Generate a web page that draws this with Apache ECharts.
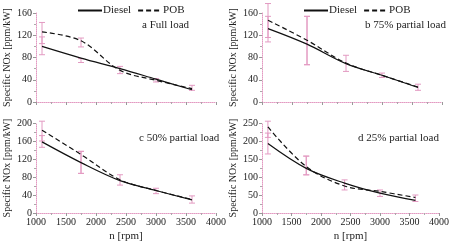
<!DOCTYPE html>
<html>
<head>
<meta charset="utf-8">
<script src="https://cdn.jsdelivr.net/npm/echarts@6/dist/echarts.min.js"></script>
<style>
  html, body { margin: 0; padding: 0; background: #fff; }
  #chart { width: 452px; height: 245px; }
</style>
</head>
<body>
<div id="chart"></div>
<script>
// engine speed of the measuring points
const rpm = [1100, 1750, 2400, 3000, 3600];

// specific NOx, ppm/kW
const dieselA = [100, 79, 60, 41, 22];
const pobA = [126, 110, 57, 39, 24];
const dieselB = [132, 104, 69, 48, 26];
const pobB = [147, 111, 70, 48, 27];
const dieselC = [158, 112, 72, 50, 29];
const pobC = [184, 130, 74, 50, 30];
const dieselD = [193, 124, 83, 55, 35];
const pobD = [239, 129, 75, 60, 43];

// error bars (rpm, low, high)
const errRpm = [1100, 1100, 1750, 1750, 2400, 3000, 3600];
const errLowA = [85, 105, 99, 71, 51, 36, 21];
const errHighA = [143, 117, 115, 78, 64, 42, 30];
const errLowB = [108, 116, 67, 67, 55, 44, 21];
const errHighB = [177, 154, 154, 154, 84, 52, 32];
const errLowC = [146, 160, 88, 88, 62, 43, 22];
const errHighC = [204, 172, 137, 137, 85, 55, 38];
const errLowD = [164, 210, 106, 106, 64, 46, 32];
const errHighD = [255, 222, 158, 158, 92, 64, 50];

const panelTitles = ['a Full load', 'b 75% partial load', 'c 50% partial load', 'd 25% partial load'];
const yMax = [160, 160, 200, 250];
const yStep = [40, 40, 40, 50];

const FONT = 'Liberation Serif';
const PINK = '#e39ac2';

const chart = echarts.init(document.getElementById('chart'));

const grids = [
  { left: 36, top: 13, width: 180, height: 89 },
  { left: 262, top: 13, width: 180, height: 89 },
  { left: 36, top: 123, width: 180, height: 90 },
  { left: 262, top: 123, width: 180, height: 90 },
];

function toPairs(ys) {
  return rpm.map((r, i) => [r, ys[i]]);
}
function toErr(lo, hi) {
  return errRpm.map((r, i) => [r, lo[i], hi[i]]);
}

function renderErr(params, api) {
  const x = api.value(0);
  const p1 = api.coord([x, api.value(1)]);
  const p2 = api.coord([x, api.value(2)]);
  const w = 3;
  const style = { stroke: PINK, lineWidth: 1 };
  return {
    type: 'group',
    children: [
      { type: 'line', shape: { x1: p1[0], y1: p1[1], x2: p2[0], y2: p2[1] }, style },
      { type: 'line', shape: { x1: p1[0] - w, y1: p1[1], x2: p1[0] + w, y2: p1[1] }, style },
      { type: 'line', shape: { x1: p2[0] - w, y1: p2[1], x2: p2[0] + w, y2: p2[1] }, style },
    ],
  };
}

const xAxes = grids.map((g, i) => ({
  type: 'value',
  gridIndex: i,
  min: 1000,
  max: 4000,
  interval: 500,
  name: i >= 2 ? 'n [rpm]' : '',
  nameLocation: 'middle',
  nameGap: 18,
  nameTextStyle: { fontFamily: FONT, fontSize: 11, color: '#222' },
  axisLine: { show: true, lineStyle: { color: PINK, type: 'dotted', width: 1 } },
  axisTick: { show: true, length: 3, inside: false, lineStyle: { color: '#999' } },
  minorTick: { show: true, splitNumber: 2, length: 2, lineStyle: { color: '#aaa' } },
  axisLabel: { show: i >= 2, fontFamily: FONT, fontSize: 10, color: '#222', margin: 4, formatter: v => String(v) },
  splitLine: { show: false },
}));

const yAxes = grids.map((g, i) => ({
  type: 'value',
  gridIndex: i,
  min: 0,
  max: yMax[i],
  interval: yStep[i],
  name: 'Specific NOx [ppm/kW]',
  nameLocation: 'middle',
  nameRotate: 90,
  nameGap: 24,
  nameTextStyle: { fontFamily: FONT, fontSize: 10, color: '#222' },
  axisLine: { show: true, lineStyle: { color: PINK, type: 'dotted', width: 1 } },
  axisTick: { show: true, length: 3, lineStyle: { color: '#999' } },
  minorTick: { show: true, splitNumber: 2, length: 2, lineStyle: { color: '#aaa' } },
  axisLabel: { fontFamily: FONT, fontSize: 10, color: '#222', margin: 4 },
  splitLine: { show: false },
}));

const dieselSets = [dieselA, dieselB, dieselC, dieselD];
const pobSets = [pobA, pobB, pobC, pobD];
const errSets = [[errLowA, errHighA], [errLowB, errHighB], [errLowC, errHighC], [errLowD, errHighD]];

const series = [];
grids.forEach((g, i) => {
  series.push({
    type: 'custom',
    name: 'err' + i,
    xAxisIndex: i,
    yAxisIndex: i,
    renderItem: renderErr,
    encode: { x: 0, y: [1, 2] },
    data: toErr(errSets[i][0], errSets[i][1]),
    z: 1,
    silent: true,
  });
  series.push({
    type: 'line',
    name: 'Diesel',
    xAxisIndex: i,
    yAxisIndex: i,
    data: toPairs(dieselSets[i]),
    smooth: 0.35,
    symbol: 'none',
    lineStyle: { color: '#111', width: 1.2, type: 'solid' },
    itemStyle: { color: '#111' },
    z: 3,
  });
  series.push({
    type: 'line',
    name: 'POB',
    xAxisIndex: i,
    yAxisIndex: i,
    data: toPairs(pobSets[i]),
    smooth: 0.35,
    symbol: 'none',
    lineStyle: { color: '#111', width: 1.2, type: [5, 3] },
    itemStyle: { color: '#111' },
    z: 3,
  });
});

const legendBase = {
  data: ['Diesel', 'POB'],
  top: 0,
  itemWidth: 24,
  itemHeight: 10,
  itemGap: 6,
  itemStyle: { opacity: 0 },
  textStyle: { fontFamily: FONT, fontSize: 11, color: '#222', padding: [0, 0, 0, -4] },
  selectedMode: false,
};

chart.setOption({
  animation: false,
  grid: grids,
  xAxis: xAxes,
  yAxis: yAxes,
  legend: [
    Object.assign({}, legendBase, { left: 72 }),
    Object.assign({}, legendBase, { left: 298 }),
  ],
  title: [
    { text: panelTitles[0], left: 142, top: 20 },
    { text: panelTitles[1], left: 365, top: 20 },
    { text: panelTitles[2], left: 139, top: 133 },
    { text: panelTitles[3], left: 358, top: 133 },
  ].map(t => Object.assign(t, { padding: 0, textStyle: { fontFamily: FONT, fontSize: 11, fontWeight: 'normal', color: '#222' } })),
  series: series,
});
</script>
</body>
</html>
